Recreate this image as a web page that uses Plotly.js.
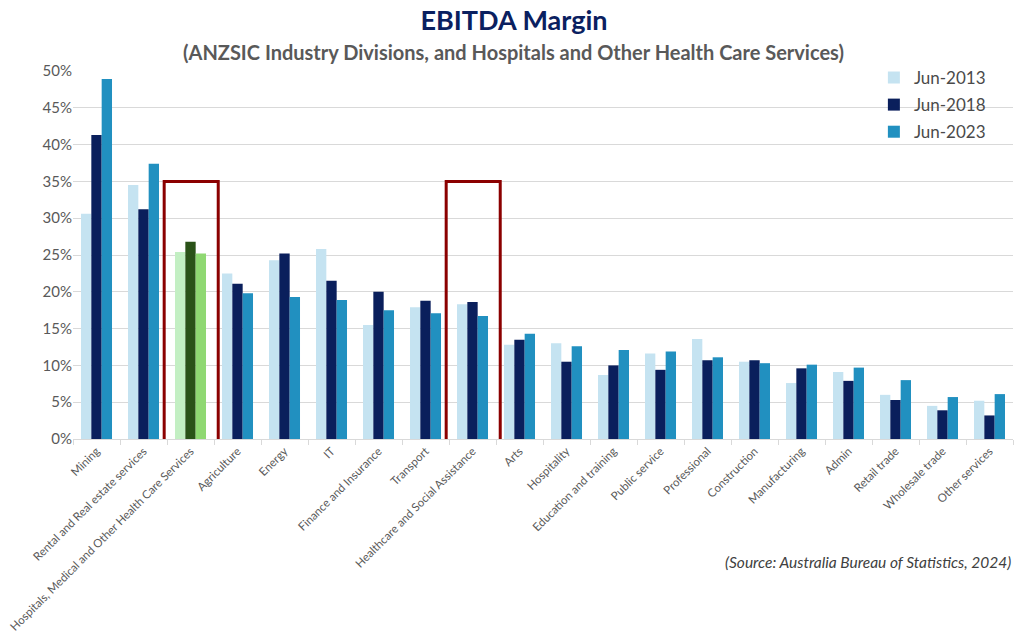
<!DOCTYPE html>
<html>
<head>
<meta charset="utf-8">
<script src="https://cdn.plot.ly/plotly-3.0.1.min.js"></script>
<style>html,body{margin:0;padding:0;background:#fff;}#chart{width:1024px;height:644px;}</style>
</head>
<body>
<div id="chart"></div>
<script>
const categories = ["Mining","Rental and Real estate services","Hospitals, Medical and Other Health Care Services","Agriculture","Energy","IT","Finance and Insurance","Transport","Healthcare and Social Assistance","Arts","Hospitality","Education and training","Public service","Professional","Construction","Manufacturing","Admin","Retail trade","Wholesale trade","Other services"];
const seriesNames = ["Jun-2013","Jun-2018","Jun-2023"];
const jun2013 = [30.6,34.5,25.4,22.5,24.3,25.8,15.5,17.9,18.3,12.8,13.0,8.7,11.6,13.6,10.5,7.6,9.1,6.0,4.5,5.2];
const jun2018 = [41.3,31.2,26.8,21.1,25.2,21.5,20.0,18.8,18.6,13.5,10.5,10.0,9.4,10.7,10.7,9.6,7.9,5.3,3.9,3.2];
const jun2023 = [48.9,37.4,25.2,19.8,19.3,18.9,17.5,17.1,16.7,14.3,12.6,12.1,11.9,11.1,10.3,10.1,9.7,8.0,5.7,6.1];
const yTicks = [0,5,10,15,20,25,30,35,40,45,50];
const yTickLabels = yTicks.map(v => v + "%");
const blueColors = ["#c5e3f1","#0a1f5c","#2190c0"];
const greenColors = ["#c3efc3","#2a5218","#8fd872"];
const highlighted = "Hospitals, Medical and Other Health Care Services";
const boxed = ["Hospitals, Medical and Other Health Care Services","Healthcare and Social Assistance"];

const allSeries = [jun2013, jun2018, jun2023];
const traces = allSeries.map((vals, i) => ({
  type: "bar",
  name: seriesNames[i],
  x: categories,
  y: vals,
  legendgroup: "g" + i,
  marker: { color: categories.map(c => c === highlighted ? greenColors[i] : blueColors[i]) },
  hovertemplate: "%{x}<br>%{y:.1f}%<extra>" + seriesNames[i] + "</extra>"
}));

const shapes = boxed.map(c => {
  const idx = categories.indexOf(c);
  return {
    type: "rect", xref: "x", yref: "y",
    x0: idx - 0.56, x1: idx + 0.59, y0: -0.2, y1: 35,
    line: { color: "#8b0000", width: 3 }, layer: "above"
  };
});

const font = "Lato, 'Open Sans', sans-serif";
const layout = {
  width: 1024, height: 644,
  margin: { l: 73, r: 11, t: 71, b: 205 },
  paper_bgcolor: "#fff", plot_bgcolor: "#fff",
  font: { family: font, color: "#595959" },
  barmode: "group",
  bargap: 0.34, bargroupgap: 0,
  title: { text: "<b>EBITDA Margin</b>", font: { family: font, size: 27, color: "#0a2060" }, x: 0.502, xanchor: "center", y: 0.968, yanchor: "middle" },
  annotations: [
    { text: "<b>(ANZSIC Industry Divisions, and Hospitals and Other Health Care Services)</b>", xref: "paper", yref: "paper", x: 0.469, y: 1.0, yshift: 19, xanchor: "center", yanchor: "middle", showarrow: false, font: { family: font, size: 20, color: "#595959" } },
    { text: "<i>(Source: Australia Bureau of Statistics, 2024)</i>", xref: "paper", yref: "paper", x: 1.0, y: 0, yshift: -123, xanchor: "right", yanchor: "middle", showarrow: false, font: { family: font, size: 15.5, color: "#404040" } }
  ],
  xaxis: {
    type: "category", tickangle: -45, tickson: "boundaries", ticks: "outside", ticklen: 5, tickcolor: "#d9d9d9",
    showline: true, linecolor: "#d9d9d9", linewidth: 1, showgrid: false,
    tickfont: { family: font, size: 11.5, color: "#595959" }
  },
  yaxis: {
    range: [0, 50], tickmode: "array", tickvals: yTicks, ticktext: yTickLabels,
    showgrid: true, gridcolor: "#d9d9d9", gridwidth: 1, zeroline: false, showline: false,
    tickfont: { family: font, size: 15, color: "#595959" }, ticks: ""
  },
  legend: {
    x: 0.852, y: 1.03, xanchor: "left", yanchor: "top", bgcolor: "rgba(0,0,0,0)",
    font: { family: font, size: 17, color: "#4a4a4a" }, traceorder: "grouped", tracegroupgap: 2,
    itemwidth: 30
  },
  shapes: shapes,
  showlegend: true
};

Plotly.newPlot("chart", traces, layout, { displayModeBar: false, staticPlot: true });
</script>
</body>
</html>
